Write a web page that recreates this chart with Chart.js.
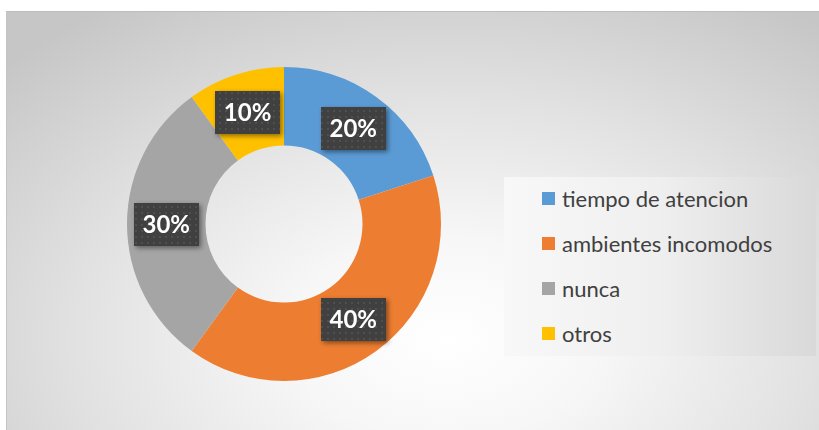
<!DOCTYPE html>
<html>
<head>
<meta charset="utf-8">
<script src="https://cdn.jsdelivr.net/npm/chart.js@4.4.1/dist/chart.umd.min.js"></script>
<style>
  html, body { margin: 0; padding: 0; background: #ffffff; }
  body { width: 819px; height: 430px; position: relative; overflow: hidden; font-family: Lato, "Open Sans", sans-serif; }
  #panel {
    position: absolute; left: 6px; top: 11px; width: 813px; height: 419px;
    border-top: 1px solid #bdbdbd; border-left: 1px solid #c4c4c4; box-sizing: border-box;
    background: radial-gradient(ellipse 75% 95% at 54% 78%, #ffffff 0%, #f7f7f7 25%, #e2e2e2 60%, #c6c6c6 100%);
  }
  #wrap { position: absolute; left: 0; top: 0; width: 813px; height: 419px; }
  #leyenda {
    position: absolute; left: 497px; top: 165px; width: 312px; height: 179px;
    background: linear-gradient(to right, #f8f8f8 0%, #efefef 50%, #d9d9d9 100%);
  }
  .item { position: absolute; left: 38px; height: 26px; display: flex; align-items: center; color: #404040; font-size: 22px; }
  .item span.cuadro { width: 13px; height: 13px; margin-right: 7px; display: inline-block; }
</style>
</head>
<body>
<div id="panel">
  <div id="wrap"><canvas id="graficoDona"></canvas></div>
  <div id="leyenda"></div>
</div>
<script>
// Datos del gráfico
const categorias = ['tiempo de atencion', 'ambientes incomodos', 'nunca', 'otros'];
const porcentajes = [20, 40, 30, 10];
const colores = ['#5B9BD5', '#ED7D31', '#A5A5A5', '#FFC000'];

// Patrón punteado para las cajas de las etiquetas
function crearPatron(ctx) {
    const c = document.createElement('canvas');
    c.width = 6; c.height = 6;
    const p = c.getContext('2d');
    p.fillStyle = '#404040';
    p.fillRect(0, 0, 6, 6);
    p.fillStyle = '#4f4f4f';
    p.fillRect(2, 2, 2, 2);
    return ctx.createPattern(c, 'repeat');
}

// Etiquetas de porcentaje en el centro de cada arco
const pluginEtiquetas = {
    id: 'etiquetas',
    afterDatasetsDraw(chart) {
        const ctx = chart.ctx;
        const meta = chart.getDatasetMeta(0);
        const patron = crearPatron(ctx);
        meta.data.forEach((arco, i) => {
            const pos = arco.tooltipPosition();
            const w = 65, h = 43;
            ctx.save();
            ctx.shadowColor = 'rgba(0,0,0,0.45)';
            ctx.shadowBlur = 5;
            ctx.shadowOffsetX = 2;
            ctx.shadowOffsetY = 2;
            ctx.fillStyle = patron;
            ctx.fillRect(Math.round(pos.x - w / 2), Math.round(pos.y - h / 2), w, h);
            ctx.restore();
            ctx.save();
            ctx.fillStyle = '#ffffff';
            ctx.font = 'bold 24px Lato, "Open Sans", sans-serif';
            ctx.textAlign = 'center';
            ctx.textBaseline = 'middle';
            ctx.fillText(porcentajes[i] + '%', pos.x, pos.y + 1);
            ctx.restore();
        });
    }
};

const ctx = document.getElementById('graficoDona').getContext('2d');
const grafico = new Chart(ctx, {
    type: 'doughnut',
    data: {
        labels: categorias,
        datasets: [{
            data: porcentajes,
            backgroundColor: colores,
            borderWidth: 0
        }]
    },
    options: {
        responsive: true,
        maintainAspectRatio: false,
        animation: false,
        cutout: '50%',
        layout: {
            padding: { left: 120, top: 55, right: 379, bottom: 50 }
        },
        plugins: {
            legend: { display: false },
            tooltip: { enabled: false }
        }
    },
    plugins: [pluginEtiquetas]
});

// Leyenda
const leyenda = document.getElementById('leyenda');
categorias.forEach((nombre, i) => {
    const div = document.createElement('div');
    div.className = 'item';
    div.style.top = (8 + i * 45) + 'px';
    div.innerHTML = '<span class="cuadro" style="background:' + colores[i] + '"></span>' + nombre;
    leyenda.appendChild(div);
});
</script>
</body>
</html>
